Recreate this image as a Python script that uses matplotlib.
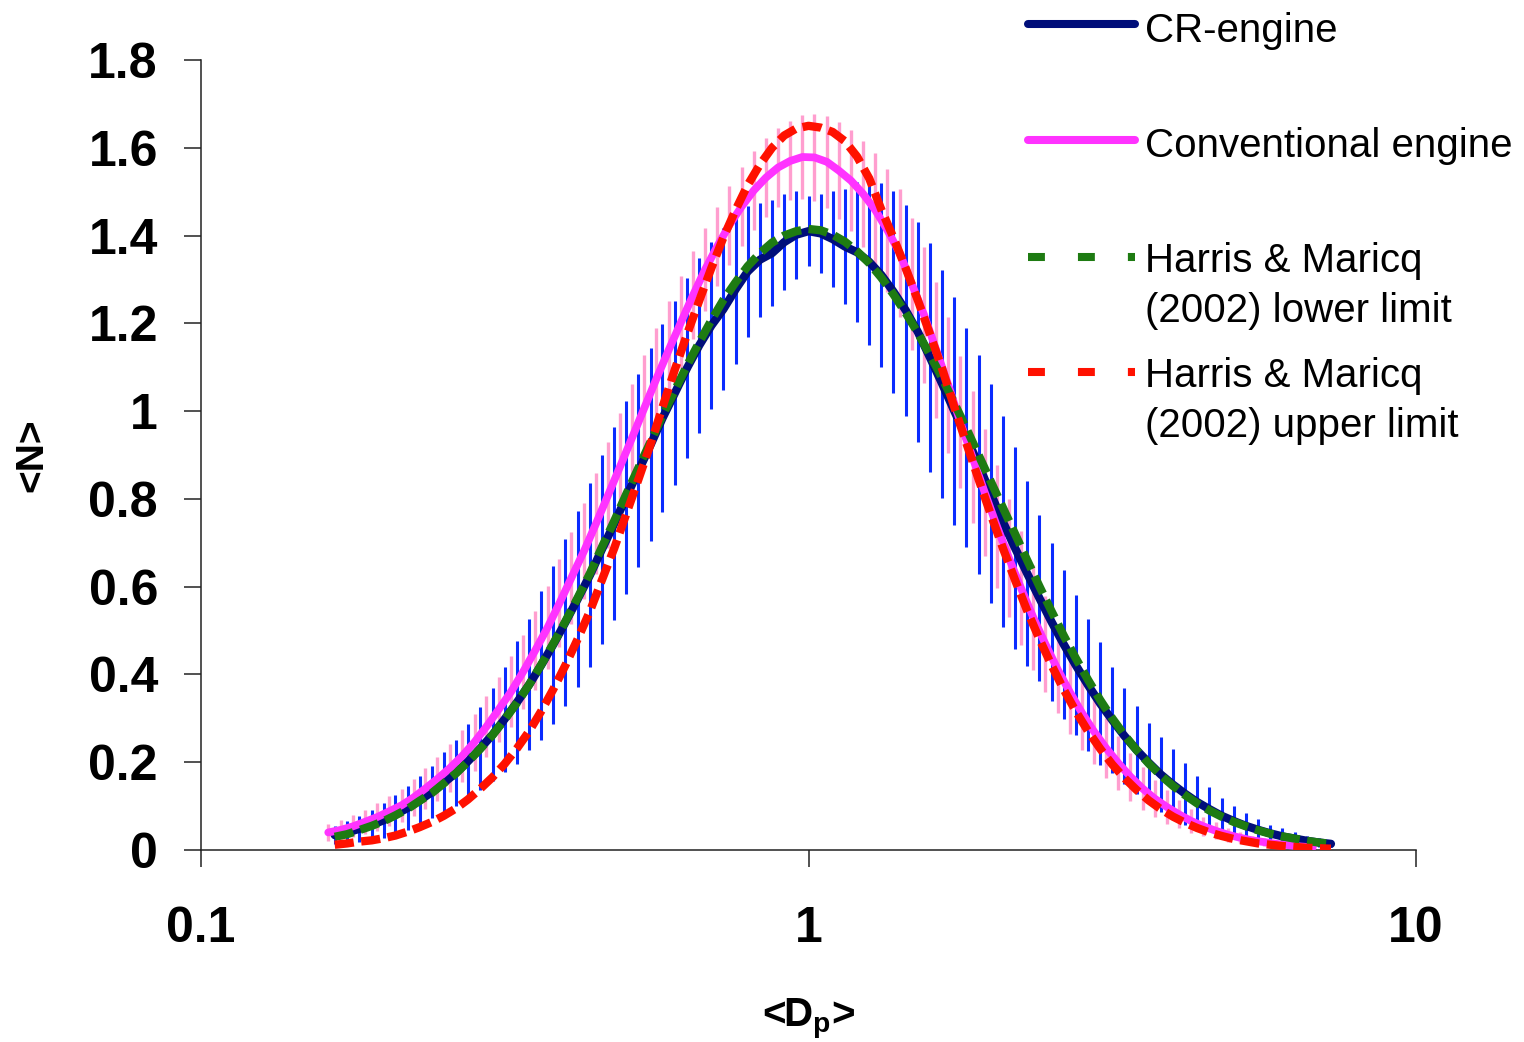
import matplotlib
matplotlib.use('Agg')
import matplotlib.pyplot as plt
from matplotlib.lines import Line2D
from matplotlib.ticker import NullLocator, FixedLocator

plt.rcParams['font.family'] = ['Liberation Sans', 'DejaVu Sans']
plt.rcParams['mathtext.fontset'] = 'custom'
plt.rcParams['mathtext.rm'] = 'Liberation Sans:bold'
plt.rcParams['mathtext.it'] = 'Liberation Sans:bold'
plt.rcParams['mathtext.bf'] = 'Liberation Sans:bold'

# ---------------- data ----------------
dp_cr = [0.166, 0.174, 0.182, 0.191, 0.200, 0.209, 0.219, 0.229, 0.240, 0.251,
         0.263, 0.275, 0.288, 0.302, 0.316, 0.331, 0.347, 0.363, 0.380, 0.398,
         0.417, 0.437, 0.457, 0.479, 0.501, 0.525, 0.550, 0.575, 0.603, 0.631,
         0.661, 0.692, 0.724, 0.759, 0.794, 0.832, 0.871, 0.912, 0.955, 1.000,
         1.047, 1.096, 1.148, 1.202, 1.259, 1.318, 1.380, 1.445, 1.514, 1.585,
         1.660, 1.738, 1.820, 1.905, 1.995, 2.089, 2.188, 2.291, 2.399, 2.512,
         2.630, 2.754, 2.884, 3.020, 3.162, 3.311, 3.467, 3.631, 3.802, 3.981,
         4.169, 4.365, 4.571, 4.786, 5.012, 5.248, 5.495, 5.754, 6.026, 6.310,
         6.607, 6.918, 7.244]

n_cr = [0.034, 0.040, 0.048, 0.057, 0.068, 0.081, 0.096, 0.113, 0.132, 0.153,
        0.176, 0.202, 0.231, 0.263, 0.298, 0.336, 0.377, 0.421, 0.468, 0.519,
        0.572, 0.627, 0.685, 0.744, 0.804, 0.864, 0.924, 0.984, 1.042, 1.098,
        1.150, 1.195, 1.232, 1.278, 1.318, 1.345, 1.360, 1.385, 1.402, 1.410,
        1.405, 1.392, 1.375, 1.362, 1.340, 1.310, 1.272, 1.230, 1.180, 1.122,
        1.062, 1.000, 0.940, 0.878, 0.812, 0.748, 0.688, 0.630, 0.574, 0.520,
        0.469, 0.421, 0.376, 0.334, 0.296, 0.260, 0.228, 0.199, 0.172, 0.149,
        0.128, 0.109, 0.093, 0.078, 0.066, 0.055, 0.046, 0.038, 0.031, 0.026,
        0.021, 0.017, 0.014]

err_cr = [0.020, 0.025, 0.030, 0.035, 0.040, 0.045, 0.050, 0.055, 0.060, 0.070,
          0.075, 0.085, 0.095, 0.105, 0.120, 0.140, 0.150, 0.170, 0.180, 0.190,
          0.200, 0.210, 0.215, 0.220, 0.220, 0.220, 0.220, 0.215, 0.210, 0.205,
          0.200, 0.190, 0.185, 0.170, 0.150, 0.130, 0.120, 0.110, 0.100, 0.080,
          0.090, 0.110, 0.130, 0.160, 0.190, 0.210, 0.230, 0.240, 0.250, 0.260,
          0.260, 0.260, 0.250, 0.250, 0.250, 0.240, 0.230, 0.210, 0.190, 0.180,
          0.170, 0.160, 0.150, 0.140, 0.120, 0.110, 0.100, 0.090, 0.085, 0.080,
          0.070, 0.060, 0.050, 0.040, 0.035, 0.030, 0.025, 0.020, 0.018, 0.015,
          0.012, 0.010, 0.008]

n_lower = [0.030, 0.036, 0.045, 0.055, 0.066, 0.079, 0.094, 0.112, 0.130, 0.152,
           0.175, 0.201, 0.230, 0.262, 0.297, 0.335, 0.377, 0.422, 0.470, 0.521,
           0.575, 0.631, 0.690, 0.750, 0.810, 0.871, 0.931, 0.990, 1.048, 1.104,
           1.157, 1.207, 1.253, 1.294, 1.330, 1.360, 1.384, 1.400, 1.410, 1.415,
           1.412, 1.402, 1.386, 1.364, 1.337, 1.304, 1.266, 1.224, 1.178, 1.128,
           1.075, 1.018, 0.960, 0.900, 0.840, 0.780, 0.720, 0.660, 0.601, 0.544,
           0.489, 0.437, 0.388, 0.342, 0.300, 0.262, 0.228, 0.197, 0.170, 0.146,
           0.125, 0.106, 0.090, 0.076, 0.064, 0.054, 0.045, 0.037, 0.031, 0.026,
           0.021, 0.017, 0.014]

n_upper = [0.012, 0.015, 0.019, 0.022, 0.027, 0.033, 0.042, 0.052, 0.064, 0.078,
           0.095, 0.115, 0.139, 0.166, 0.196, 0.231, 0.271, 0.316, 0.366, 0.421,
           0.481, 0.545, 0.615, 0.688, 0.765, 0.845, 0.926, 1.009, 1.096, 1.175,
           1.252, 1.326, 1.395, 1.459, 1.515, 1.562, 1.600, 1.628, 1.644, 1.650,
           1.646, 1.636, 1.615, 1.580, 1.530, 1.459, 1.395, 1.326, 1.252, 1.175,
           1.096, 1.009, 0.926, 0.845, 0.765, 0.688, 0.615, 0.545, 0.481, 0.421,
           0.366, 0.316, 0.271, 0.231, 0.195, 0.164, 0.137, 0.113, 0.093, 0.076,
           0.062, 0.050, 0.040, 0.032, 0.025, 0.020, 0.015, 0.012, 0.009, 0.007,
           0.005, 0.004, 0.003]

dp_conv = [0.162, 0.170, 0.178, 0.186, 0.195, 0.204, 0.214, 0.224, 0.234, 0.245,
           0.257, 0.269, 0.282, 0.295, 0.309, 0.324, 0.339, 0.355, 0.372, 0.389,
           0.407, 0.427, 0.447, 0.468, 0.490, 0.513, 0.537, 0.562, 0.589, 0.617,
           0.646, 0.676, 0.708, 0.741, 0.776, 0.813, 0.851, 0.891, 0.933, 0.977,
           1.023, 1.072, 1.122, 1.175, 1.230, 1.288, 1.349, 1.413, 1.479, 1.549,
           1.622, 1.698, 1.778, 1.862, 1.950, 2.042, 2.138, 2.239, 2.344, 2.455,
           2.570, 2.692, 2.818, 2.951, 3.090, 3.236, 3.388, 3.548, 3.715, 3.890,
           4.074, 4.266, 4.467, 4.677, 4.898, 5.129, 5.370, 5.623, 5.888, 6.166,
           6.457, 6.761]

n_conv = [0.040, 0.046, 0.054, 0.064, 0.075, 0.088, 0.102, 0.120, 0.140, 0.162,
          0.187, 0.214, 0.246, 0.281, 0.320, 0.361, 0.406, 0.455, 0.507, 0.562,
          0.620, 0.681, 0.744, 0.809, 0.875, 0.941, 1.008, 1.074, 1.140, 1.203,
          1.265, 1.323, 1.376, 1.424, 1.466, 1.503, 1.532, 1.555, 1.570, 1.579,
          1.578, 1.568, 1.548, 1.525, 1.495, 1.458, 1.412, 1.360, 1.290, 1.220,
          1.140, 1.060, 0.975, 0.895, 0.815, 0.738, 0.665, 0.596, 0.530, 0.469,
          0.412, 0.360, 0.313, 0.270, 0.232, 0.198, 0.167, 0.140, 0.117, 0.098,
          0.081, 0.066, 0.054, 0.044, 0.035, 0.028, 0.022, 0.018, 0.014, 0.011,
          0.008, 0.006]

err_conv = [0.020, 0.022, 0.025, 0.028, 0.031, 0.034, 0.038, 0.042, 0.046, 0.050,
            0.055, 0.060, 0.065, 0.070, 0.075, 0.080, 0.085, 0.090, 0.095, 0.100,
            0.105, 0.110, 0.115, 0.120, 0.120, 0.120, 0.120, 0.115, 0.110, 0.105,
            0.100, 0.095, 0.090, 0.090, 0.090, 0.090, 0.090, 0.090, 0.090, 0.095,
            0.100, 0.105, 0.110, 0.115, 0.120, 0.130, 0.140, 0.145, 0.150, 0.155,
            0.155, 0.155, 0.150, 0.150, 0.145, 0.140, 0.135, 0.130, 0.120, 0.110,
            0.100, 0.095, 0.085, 0.075, 0.068, 0.062, 0.055, 0.048, 0.042, 0.038,
            0.032, 0.028, 0.022, 0.019, 0.016, 0.013, 0.011, 0.009, 0.007, 0.006,
            0.005, 0.004]

yticks = [0, 0.2, 0.4, 0.6, 0.8, 1.0, 1.2, 1.4, 1.6, 1.8]
ytick_labels = ['0', '0.2', '0.4', '0.6', '0.8', '1', '1.2', '1.4', '1.6', '1.8']
xticks = [0.1, 1, 10]
xtick_labels = ['0.1', '1', '10']

series_labels = ['CR-engine', 'Conventional engine',
                 'Harris & Maricq\n(2002) lower limit',
                 'Harris & Maricq\n(2002) upper limit']

c_navy = '#000E7A'
c_blue = '#0A2BFF'
c_magenta = '#FF33FF'
c_pink = '#FF9ECF'
c_green = '#1E7B12'
c_red = '#FF1100'

# ---------------- figure ----------------
W, H = 1524, 1042
fig = plt.figure(figsize=(W / 100, H / 100), dpi=100)
ax = fig.add_axes([201 / W, 192 / H, 1215 / W, 790 / H])

ax.errorbar(dp_conv, n_conv, yerr=err_conv, fmt='none', ecolor=c_pink,
            elinewidth=2.4, capsize=0, zorder=2)
ax.errorbar(dp_cr, n_cr, yerr=err_cr, fmt='none', ecolor=c_blue,
            elinewidth=2.2, capsize=0, zorder=3)

lw = 6.0
ax.plot(dp_cr, n_cr, color=c_navy, lw=lw, solid_capstyle='round',
        solid_joinstyle='round', zorder=4)
ax.plot(dp_conv, n_conv, color=c_magenta, lw=lw - 0.4, solid_capstyle='round',
        solid_joinstyle='round', zorder=5)
ax.plot(dp_cr, n_lower, color=c_green, lw=lw, dashes=(2.3, 0.9),
        dash_capstyle='butt', zorder=6)
ax.plot(dp_cr, n_upper, color=c_red, lw=lw, dashes=(2.3, 0.9),
        dash_capstyle='butt', zorder=7)

ax.set_xscale('log')
ax.set_xlim(0.1, 10)
ax.set_ylim(0, 1.8)
ax.xaxis.set_major_locator(FixedLocator(xticks))
ax.xaxis.set_minor_locator(NullLocator())
ax.set_xticklabels(xtick_labels)
ax.set_yticks(yticks)
ax.set_yticklabels(ytick_labels)

for s in ['top', 'right']:
    ax.spines[s].set_visible(False)
for s in ['left', 'bottom']:
    ax.spines[s].set_linewidth(1.1)
    ax.spines[s].set_color('#222222')

ax.tick_params(axis='both', direction='out', length=12, width=1.1,
               color='#222222', labelsize=36)
ax.tick_params(axis='y', pad=19)
ax.tick_params(axis='x', pad=28)
for lab in ax.get_xticklabels() + ax.get_yticklabels():
    lab.set_fontweight('bold')

ax.set_ylabel('<N>', fontsize=28, fontweight='bold')
ax.yaxis.set_label_coords(-0.124, 0.5)
ax.set_xlabel(r'<D$_{\mathrm{p}}$>', fontsize=29, fontweight='bold')
ax.xaxis.set_label_coords(0.5, -0.185)


# ---------------- manual legend ----------------
def fx(px):
    return px / W


def fy(py):
    return 1 - py / H


legend_y = [24, 140, 257, 372]
handles = [
    dict(color=c_navy, solid_capstyle='round'),
    dict(color=c_magenta, solid_capstyle='round'),
    dict(color=c_green, dashes=(2.1, 4.1), dash_capstyle='butt'),
    dict(color=c_red, dashes=(2.1, 4.1), dash_capstyle='butt'),
]
for yy, kw in zip(legend_y, handles):
    fig.add_artist(Line2D([fx(1028), fx(1135)], [fy(yy), fy(yy)], lw=5.8,
                          transform=fig.transFigure, **kw))

baselines = [[42], [157], [272, 322], [387, 437]]
for lab, bls in zip(series_labels, baselines):
    for line, bl in zip(lab.split('\n'), bls):
        fig.text(fx(1145), fy(bl), line, fontsize=29, va='baseline',
                 ha='left', color='black')

fig.savefig('out.png', dpi=100)
